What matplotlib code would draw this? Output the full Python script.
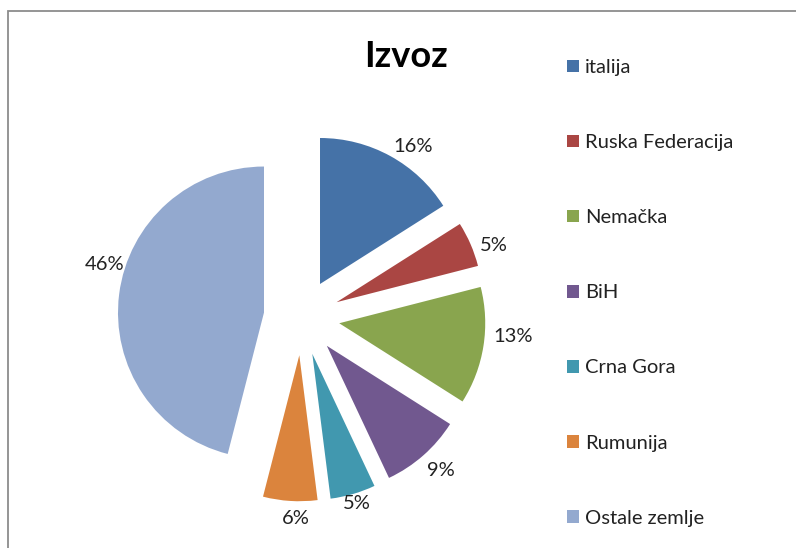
import matplotlib
matplotlib.use('Agg')
import matplotlib.pyplot as plt
import numpy as np
from matplotlib.patches import Rectangle

# ---- data ----
categories = ['italija', 'Ruska Federacija', 'Nemačka', 'BiH', 'Crna Gora', 'Rumunija', 'Ostale zemlje']
values = [16, 5, 13, 9, 5, 6, 46]
colors = ['#4572A7', '#AA4643', '#89A54E', '#71588F', '#4198AF', '#DB843D', '#93A9CF']
title = 'Izvoz'

# ---- layout (pixels) ----
W, H = 796, 548
FONT = ['Lato', 'DejaVu Sans']
plt.rcParams['font.family'] = FONT

fig = plt.figure(figsize=(W / 100, H / 100), dpi=100)
ax = fig.add_axes([0, 0, 1, 1])

cx, cy = 301.7, H - 317.3
R = 146
explode_px = 38

wedges, texts, autotexts = ax.pie(
    values, colors=colors, startangle=90, counterclock=False,
    radius=R, center=(cx, cy), explode=[explode_px] * len(values),
    autopct='%1.0f%%', pctdistance=1.13,
    wedgeprops=dict(linewidth=0),
    textprops=dict(fontsize=14.5, color='#222222'))

# label placement (angle offset from bisector in degrees, radial distance / R)
lab_off = [-5.2, -3.6, 4.5, 1.1, 0.3, 2.3, -9.6]
lab_dist = [1.140, 1.146, 1.194, 1.158, 1.069, 1.119, 1.138]
for w, t, off, d in zip(wedges, autotexts, lab_off, lab_dist):
    mid = np.deg2rad((w.theta1 + w.theta2) / 2 + off)
    x0, y0 = w.center
    t.set_position((x0 + R * d * np.cos(mid), y0 + R * d * np.sin(mid)))
    t.set_ha('center')
    t.set_va('center')

ax.set_xlim(0, W)
ax.set_ylim(0, H)
ax.set_aspect('equal')
ax.axis('off')

fig.text(405.5 / W, 1 - 67 / H, title, fontsize=26, fontweight='bold',
         ha='center', va='baseline', color='black')

leg = ax.legend(wedges, categories, loc='upper left',
                bbox_to_anchor=(567 / W, 1 - 59 / H), frameon=False,
                fontsize=14.5, handlelength=0.6, handleheight=0.6,
                handletextpad=0.3, labelspacing=2.885, borderpad=0,
                borderaxespad=0)
for txt in leg.get_texts():
    txt.set_color('#222222')

fig.patches.append(Rectangle((8 / W, -0.1), 1.2, (H - 11) / H + 0.1,
                             transform=fig.transFigure, fill=False,
                             edgecolor='#8c8c8c', linewidth=1.3))

fig.savefig('out.png', dpi=100)
